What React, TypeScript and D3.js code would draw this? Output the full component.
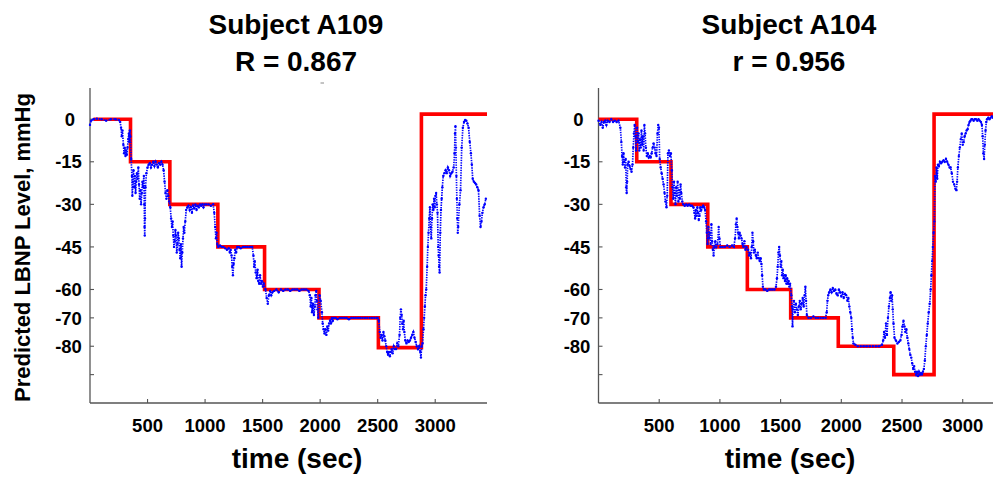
import React from "react";
import * as d3 from "d3";

const W = 993;
const H = 477;
const FONT = "'Liberation Sans', Arial, Helvetica, sans-serif";

const xTicks = [500, 1000, 1500, 2000, 2500, 3000];
const yTicks = [0, -15, -30, -45, -60, -70, -80, -90];
const yTickLabels = ["0", "-15", "-30", "-45", "-60", "-70", "-80", ""];

// target LBNP protocol (red steps)
const a109StepTimes = [30, 352, 694, 1111, 1517, 1990, 2506, 2880, 3450];
const a109StepLevels = [0, -15, -30, -45, -60, -70, -80.5, 1.8, 1.8];
const a104StepTimes = [0, 315, 597, 900, 1226, 1583, 1975, 2432, 2764, 3270];
const a104StepLevels = [0, -15, -30, -45, -60, -70, -80, -90, 1.8, 1.8];

// predicted LBNP (blue), [time, mmHg]
const a109Pred = [
  [0, -2], [10, -0.5], [30, 0], [60, 0.2], [100, 0], [140, -0.5], [180, 0], [220, 0], [250, -0.3],
  [262, -1], [270, -3], [276, -6], [282, -4], [290, -9], [296, -12], [302, -10], [308, -13], [314, -11],
  [320, -12.5], [326, -10], [332, -7], [338, -5], [342, -8], [346, -4], [350, -6],
  [358, -14], [364, -20], [368, -27], [372, -22], [378, -18], [384, -24], [390, -20], [396, -26],
  [402, -22], [408, -19], [414, -21], [420, -17], [426, -23], [432, -28], [438, -25], [444, -30],
  [450, -26], [456, -22], [462, -24], [468, -20], [472, -30], [474, -38], [476, -41], [478, -35],
  [482, -24], [490, -19], [500, -17], [510, -16], [520, -15.5], [530, -17], [540, -16], [550, -15],
  [560, -16.5], [570, -15], [580, -16], [590, -17], [600, -15.5], [610, -16], [620, -15], [630, -16],
  [640, -18], [648, -22], [656, -26], [664, -28], [672, -25], [680, -27], [688, -29],
  [698, -31], [705, -35], [712, -38], [718, -36], [724, -41], [730, -45], [736, -43], [742, -39],
  [748, -41], [754, -47], [760, -44], [766, -40], [772, -42], [778, -46], [784, -49], [790, -44],
  [796, -52], [802, -47], [808, -42], [814, -38], [820, -40], [828, -36], [836, -32], [846, -31],
  [856, -30.5], [866, -32], [876, -31], [886, -33], [896, -30.5], [906, -31.5], [916, -30], [926, -32],
  [936, -30.5], [946, -31], [956, -30], [966, -30.5], [976, -30], [986, -31], [996, -30], [1010, -30],
  [1030, -30], [1050, -30.5], [1070, -30], [1080, -33], [1088, -38], [1094, -42], [1100, -40], [1106, -44],
  [1115, -45], [1130, -44.5], [1145, -45], [1160, -45], [1175, -45.5], [1190, -46], [1205, -45.5],
  [1215, -47], [1222, -46], [1230, -48], [1236, -52], [1242, -55], [1248, -51], [1254, -49], [1262, -46],
  [1270, -47], [1280, -45], [1295, -45], [1310, -45.5], [1330, -45], [1350, -45], [1370, -45],
  [1390, -45], [1410, -45], [1420, -48], [1426, -52], [1432, -50], [1440, -54], [1448, -56],
  [1456, -53], [1462, -57], [1470, -58], [1478, -55], [1486, -58], [1494, -57], [1502, -59], [1510, -58],
  [1525, -60], [1535, -63], [1545, -65], [1555, -62], [1565, -60.5], [1575, -62], [1585, -61],
  [1600, -60.5], [1620, -60], [1640, -61], [1660, -60], [1680, -60.5], [1700, -60], [1720, -60],
  [1740, -60.5], [1760, -60], [1780, -60], [1800, -60], [1820, -60.5], [1840, -60], [1860, -60],
  [1880, -60], [1900, -60.5], [1910, -62], [1918, -66], [1924, -63], [1930, -68], [1938, -65],
  [1946, -69], [1954, -66], [1960, -62], [1966, -60.5], [1972, -64], [1978, -67], [1984, -70],
  [1995, -62], [2005, -64], [2015, -68], [2022, -72], [2030, -74], [2038, -75.5], [2046, -74],
  [2054, -76], [2062, -73], [2070, -74.5], [2078, -72], [2086, -71], [2094, -72], [2102, -70],
  [2110, -71], [2120, -70], [2135, -70], [2150, -70.5], [2170, -70], [2190, -70], [2210, -70],
  [2230, -70], [2250, -70.5], [2270, -70], [2290, -70], [2310, -70], [2330, -70], [2350, -70],
  [2370, -70], [2390, -70], [2410, -70], [2430, -70], [2450, -70], [2470, -70], [2490, -70], [2500, -70],
  [2510, -71], [2518, -75], [2526, -77], [2534, -76], [2542, -78], [2550, -75], [2558, -76.5],
  [2566, -78], [2574, -80], [2582, -82], [2590, -83], [2598, -82], [2606, -83.5], [2614, -82],
  [2622, -81], [2630, -82.5], [2640, -80], [2650, -81], [2660, -81], [2670, -79], [2680, -80],
  [2690, -76], [2696, -70], [2702, -67], [2708, -69], [2714, -72], [2720, -74], [2726, -71],
  [2732, -75], [2740, -78], [2750, -79], [2760, -78], [2770, -78.5], [2780, -78], [2790, -77],
  [2800, -76], [2810, -75], [2820, -77], [2830, -78.5], [2840, -80], [2850, -81], [2860, -80],
  [2870, -82], [2876, -84], [2882, -80],
  [2890, -79], [2898, -74], [2904, -70], [2910, -66], [2916, -62], [2922, -60], [2930, -52],
  [2936, -45], [2942, -40], [2948, -35], [2954, -31], [2960, -38], [2966, -42], [2972, -35],
  [2978, -30], [2984, -32], [2990, -28], [2996, -31], [3002, -27], [3008, -26], [3014, -30],
  [3020, -33], [3026, -45], [3030, -48], [3034, -52], [3038, -54], [3044, -40], [3050, -32],
  [3056, -28], [3062, -24], [3070, -20], [3080, -19], [3090, -18], [3100, -19], [3110, -17],
  [3120, -18], [3130, -20], [3140, -19], [3150, -18.5], [3160, -17], [3168, -12], [3172, -5],
  [3176, -2.5], [3180, -10], [3184, -20], [3188, -28], [3192, -35], [3196, -40], [3200, -38],
  [3210, -30], [3220, -25], [3230, -10], [3240, -3], [3250, -1], [3260, -0.3], [3270, -0.5],
  [3280, -1.5], [3290, -3], [3300, -8], [3310, -12], [3318, -16], [3326, -21], [3336, -22],
  [3346, -22.5], [3356, -23], [3366, -24], [3376, -25], [3386, -34], [3394, -38], [3402, -36],
  [3410, -33], [3420, -31], [3430, -30], [3440, -28],
];

const a104Pred = [
  [0, -0.5], [15, -2], [25, -1], [35, -3], [45, -1], [55, -0.5], [65, -2], [75, -0.5], [90, -1],
  [105, 0], [120, -1], [135, -0.5], [150, -1], [165, -0.5], [180, -3], [188, -8], [194, -13],
  [200, -16], [206, -12], [212, -15], [218, -17], [224, -14], [228, -24], [232, -26], [236, -22],
  [240, -16], [248, -15], [256, -16.5], [264, -17.5], [272, -18.5], [280, -16], [286, -10], [292, -5],
  [298, -2], [304, -6], [310, -11],
  [318, -3], [324, -8], [330, -5], [336, -11], [342, -7], [348, -10], [354, -4], [360, -9], [366, -6],
  [372, -11], [378, -2], [384, -5], [390, -10], [398, -13], [406, -12], [414, -13.5], [422, -13],
  [430, -13.5], [438, -12], [446, -10], [454, -8.5], [462, -10], [470, -12], [478, -13], [486, -5],
  [492, -2], [498, -3], [504, -14], [512, -17], [520, -19], [528, -21], [536, -23], [544, -26],
  [552, -29], [560, -31], [566, -27], [572, -12], [580, -11], [588, -13], [596, -12],
  [604, -18], [610, -24], [616, -28], [622, -22], [628, -26], [634, -30], [640, -24], [646, -27],
  [652, -22], [658, -29], [664, -25], [670, -28], [676, -23], [682, -26], [690, -29], [698, -30],
  [710, -30.5], [722, -30], [734, -30.5], [746, -30], [758, -30.5], [770, -30.5], [782, -31],
  [790, -33], [796, -35], [802, -32], [808, -34], [814, -31], [820, -33], [826, -35.5], [832, -34],
  [838, -31], [846, -32], [854, -31], [862, -30.5], [870, -31], [878, -32], [886, -36], [892, -40],
  [898, -44],
  [905, -38], [912, -42], [918, -40], [924, -44], [930, -37], [936, -43], [942, -46], [948, -48],
  [954, -45], [962, -43], [970, -45], [980, -44], [990, -38], [996, -42], [1004, -45], [1020, -45],
  [1040, -45], [1060, -44.5], [1080, -45], [1100, -44.5], [1115, -45], [1125, -42], [1132, -37],
  [1138, -35], [1144, -38], [1150, -40], [1156, -42], [1162, -40], [1170, -41], [1178, -42],
  [1186, -44], [1194, -45], [1202, -43], [1210, -46], [1218, -45],
  [1232, -46], [1240, -48], [1248, -47], [1256, -49], [1262, -45], [1268, -40], [1274, -43],
  [1280, -47], [1288, -46], [1296, -48], [1304, -49], [1312, -47], [1320, -49], [1328, -50],
  [1336, -49], [1342, -51], [1348, -55], [1354, -59], [1362, -60], [1375, -60], [1390, -60.5],
  [1405, -60], [1420, -60], [1435, -60], [1450, -60], [1462, -59], [1470, -56], [1476, -52],
  [1482, -47], [1488, -45], [1494, -48], [1500, -52], [1506, -50], [1512, -55], [1518, -53],
  [1524, -56], [1530, -55], [1536, -57], [1542, -55], [1548, -58], [1554, -56], [1560, -58],
  [1566, -57], [1572, -59], [1578, -58],
  [1588, -62], [1594, -66], [1598, -73], [1602, -67], [1610, -64], [1618, -68], [1626, -65],
  [1634, -67], [1642, -69], [1650, -66], [1658, -64], [1666, -67], [1674, -65], [1682, -63],
  [1690, -66], [1698, -62], [1704, -59], [1710, -64], [1716, -69], [1730, -70], [1750, -70],
  [1770, -69.5], [1790, -70], [1810, -70], [1830, -70], [1850, -70], [1870, -70], [1880, -68],
  [1886, -64], [1892, -62], [1900, -61], [1910, -60], [1920, -61], [1930, -59.5], [1940, -60.5],
  [1950, -60], [1960, -61.5], [1970, -62], [1980, -60], [1990, -61], [2000, -62.5], [2010, -61],
  [2020, -63], [2030, -61.5], [2040, -62], [2050, -64], [2058, -63], [2066, -66], [2074, -68],
  [2082, -70], [2088, -74], [2094, -77], [2100, -79], [2115, -79.5], [2135, -80], [2160, -80],
  [2185, -80], [2210, -80], [2235, -80], [2260, -80], [2285, -80], [2310, -80], [2335, -79.5],
  [2345, -78], [2352, -75], [2360, -77], [2368, -72], [2376, -76], [2384, -70], [2392, -66],
  [2400, -63], [2406, -61], [2412, -64], [2418, -62], [2424, -67], [2430, -72],
  [2438, -77], [2450, -78], [2462, -79], [2474, -78.5], [2486, -78], [2496, -76], [2504, -73],
  [2512, -71], [2520, -73], [2528, -75], [2536, -74], [2544, -77], [2552, -79], [2560, -81],
  [2568, -83], [2576, -84], [2584, -86], [2592, -88], [2600, -87], [2608, -89], [2616, -90],
  [2624, -89], [2632, -90.5], [2640, -89], [2648, -90], [2656, -89.5], [2664, -90], [2672, -89],
  [2680, -88], [2688, -85], [2696, -80], [2704, -76], [2712, -72], [2720, -68], [2728, -65],
  [2736, -60], [2742, -55], [2748, -50], [2754, -45], [2760, -40], [2766, -36],
  [2772, -20], [2778, -22], [2784, -17], [2790, -21], [2796, -16], [2804, -16.5], [2812, -15],
  [2822, -15.5], [2832, -15], [2842, -14.5], [2852, -15], [2862, -14], [2872, -15], [2882, -16],
  [2892, -17], [2900, -17], [2910, -19], [2920, -22], [2930, -23], [2940, -24.5], [2948, -25],
  [2954, -22], [2960, -17], [2968, -13], [2976, -10], [2984, -7], [2992, -5], [3000, -9],
  [3008, -8], [3016, -6], [3024, -5], [3032, -4], [3040, -3.5], [3048, -2], [3056, -1],
  [3064, -0.5], [3072, 0], [3080, 0], [3090, -0.5], [3100, 0], [3110, 0], [3120, -0.5], [3130, 0],
  [3140, -0.5], [3150, -1], [3158, -2], [3164, -6], [3170, -12], [3176, -14], [3182, -9],
  [3188, -4], [3194, -1], [3200, 0], [3210, 0.5], [3220, 0], [3230, 0.5], [3240, 1], [3250, 0.5],
];

const PLOT_TOP = 88;
const PLOT_BOTTOM = 403;
const PLOT_W = 397;

function Panel(props) {
  const { left, xMax, title, stat, titleX, labelX, stepTimes, stepLevels, pred } = props;
  const x = d3.scaleLinear().domain([0, xMax]).range([left, left + PLOT_W]);
  const y = d3.scaleLinear().domain([-100, 11]).range([PLOT_BOTTOM, PLOT_TOP]);

  const steps = stepTimes.map((t, i) => [t, stepLevels[i]]);
  const stepPath = d3
    .line()
    .x((d) => x(d[0]))
    .y((d) => y(d[1]))
    .curve(d3.curveStepAfter)(steps);
  const predPath = d3
    .line()
    .x((d) => x(d[0]))
    .y((d) => y(d[1]))(pred);

  const axisColor = "#555";

  return (
    <g>
      <text x={titleX} y={34} textAnchor="middle" fontSize={28} fontWeight="bold" fontFamily={FONT}>
        {title}
      </text>
      <text x={titleX} y={71} textAnchor="middle" fontSize={28} fontWeight="bold" fontFamily={FONT}>
        {stat}
      </text>

      {/* axes */}
      <line x1={left} x2={left} y1={PLOT_TOP} y2={PLOT_BOTTOM} stroke={axisColor} strokeWidth={1.3} />
      <line x1={left} x2={left + PLOT_W} y1={PLOT_BOTTOM} y2={PLOT_BOTTOM} stroke={axisColor} strokeWidth={1.3} />
      {yTicks.map((v, i) => (
        <g key={"y" + v}>
          <line x1={left} x2={left + 4} y1={y(v)} y2={y(v)} stroke={axisColor} strokeWidth={1.1} />
          <text
            x={left - 21.5 + (yTickLabels[i] === "0" ? 1.5 : 0)}
            y={y(v)}
            dy="0.36em"
            textAnchor="middle"
            fontSize={18.5}
            fontWeight="bold"
            fontFamily={FONT}
          >
            {yTickLabels[i]}
          </text>
        </g>
      ))}
      {xTicks.map((t) => (
        <g key={"x" + t}>
          <line x1={x(t)} x2={x(t)} y1={PLOT_BOTTOM} y2={PLOT_BOTTOM - 4} stroke={axisColor} strokeWidth={1.1} />
          <text x={x(t)} y={432} textAnchor="middle" fontSize={18.5} fontWeight="bold" fontFamily={FONT}>
            {t}
          </text>
        </g>
      ))}

      {/* target steps */}
      <path d={stepPath} fill="none" stroke="#ff0000" strokeWidth={3.6} strokeLinejoin="miter" />

      {/* predicted level */}
      <path
        d={predPath}
        fill="none"
        stroke="#0000ff"
        strokeWidth={1.7}
        strokeDasharray="1.4 1.1"
      />
      {pred.map((d, i) => (
        <circle key={i} cx={x(d[0])} cy={y(d[1])} r={1.2} fill="#0000ff" />
      ))}

      <text x={labelX} y={468} textAnchor="middle" fontSize={28} fontWeight="bold" fontFamily={FONT}>
        time (sec)
      </text>
    </g>
  );
}

export default function App() {
  return (
    <svg
      width={W}
      height={H}
      style={{ position: "absolute", left: 0, top: 0, background: "#fff" }}
    >
      <rect width={W} height={H} fill="#fff" />
      <text
        transform="translate(30,247.5) rotate(-90)"
        textAnchor="middle"
        fontSize={22}
        fontWeight="bold"
        fontFamily={FONT}
      >
        Predicted LBNP Level, mmHg
      </text>
      <line x1={320.5} x2={324} y1={83} y2={83} stroke="#888" strokeWidth={1} />
      <Panel
        left={90}
        xMax={3450}
        title="Subject A109"
        stat="R = 0.867"
        titleX={296}
        labelX={297}
        stepTimes={a109StepTimes}
        stepLevels={a109StepLevels}
        pred={a109Pred}
      />
      <Panel
        left={598.5}
        xMax={3270}
        title="Subject A104"
        stat="r = 0.956"
        titleX={789}
        labelX={790}
        stepTimes={a104StepTimes}
        stepLevels={a104StepLevels}
        pred={a104Pred}
      />
    </svg>
  );
}
